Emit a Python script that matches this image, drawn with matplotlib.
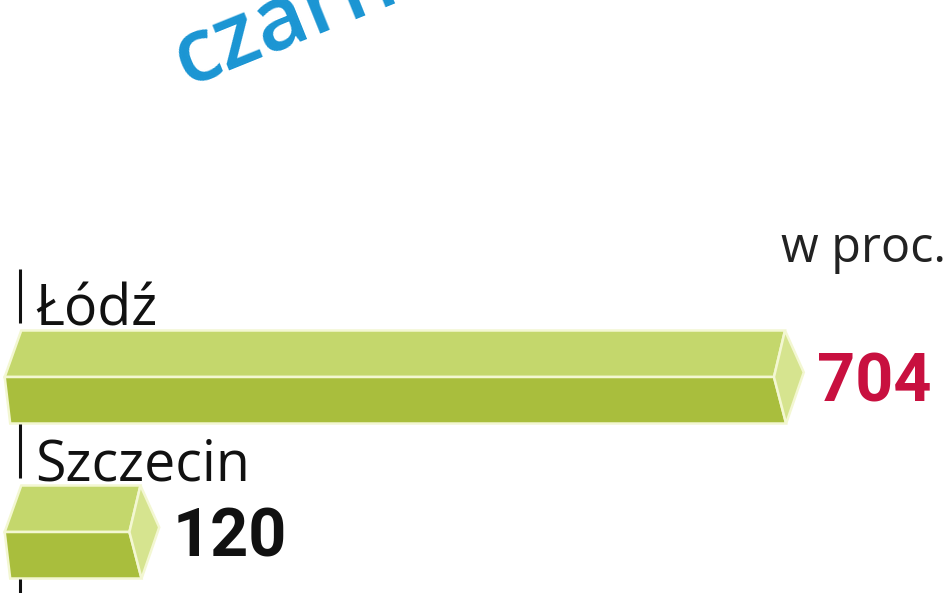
import matplotlib.pyplot as plt
from matplotlib.patches import Polygon
import numpy as np

# data
cities = ["Łódź", "Szczecin", ""]
values = [704, 120, np.nan]
value_colors = ["#c8103f", "#111111", "#111111"]
unit_label = "w proc."
title = "czarne"

W, H = 948, 593
fig = plt.figure(figsize=(W / 100, H / 100), dpi=100)
ax = fig.add_axes([0, 0, 1, 1])
ax.axis("off")

# scale: value 0 at x=8 px, 704 at x=785 px; rows 155 px apart, first row centre at y=377 px
k = (785 - 8) / 704.0
ax.set_xlim(-8 / k, (W - 8) / k)
ax.set_ylim((H - 377) / 155.0, -377 / 155.0)

top_col = "#c4d76c"
bot_col = "#a9be3d"
cap_col = "#d6e48f"
edge_col = "#f3f7d2"
h = 0.30

for i, (city, v) in enumerate(zip(cities, values)):
    c = i
    # small tick and city label above the bar
    ax.plot([11, 11], [c - 0.70, c - 0.35], color="#111111", lw=2.2, solid_capstyle="butt")
    ax.text(25, c - 0.33, city, fontsize=40, family="Open Sans", color="#111111",
            ha="left", va="baseline")
    if np.isnan(v):
        continue
    top = Polygon([(-3, c), (12, c - h), (v, c - h), (v - 10, c)], closed=True,
                  facecolor=top_col, edgecolor=edge_col, lw=1.8)
    bot = Polygon([(-3, c), (2, c + h), (v + 1, c + h), (v - 10, c)], closed=True,
                  facecolor=bot_col, edgecolor=edge_col, lw=1.8)
    cap = Polygon([(v, c - h), (v + 17, c - 0.03), (v + 1, c + h), (v - 10, c)], closed=True,
                  facecolor=cap_col, edgecolor=edge_col, lw=1.8)
    for p in (top, bot, cap):
        ax.add_patch(p)
    ax.text(v + 29, c + 0.04, f"{v:.0f}", fontsize=48, family="Roboto", weight="bold",
            color=value_colors[i], ha="left", va="center")

fig.text(946 / W, 1 - 262 / H, unit_label, fontsize=35, family="Open Sans",
         color="#222222", ha="right", va="baseline")

fig.text(186 / W, 1 - 86 / H, title, fontsize=64, family="Open Sans", weight="semibold",
         color="#1a95d3", rotation=22, rotation_mode="anchor", ha="left", va="baseline")

fig.savefig("out.png", dpi=100)
